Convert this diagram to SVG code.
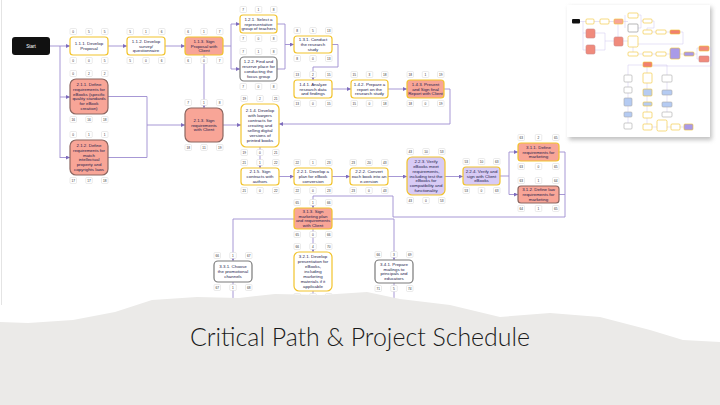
<svg xmlns="http://www.w3.org/2000/svg" width="720" height="405" viewBox="0 0 720 405">
<style>
.nd{stroke-width:1.2}
.cp{fill:#fff;stroke:#f2c32c}
.cs{fill:#f8a597;stroke:#f2c32c}
.cv{fill:#d8cbf5;stroke:#f2c32c}
.gw{fill:#fff;stroke:#7a7a7a}
.gs{fill:#f8a597;stroke:#8c6660}
.tx{font-family:"Liberation Sans",Arial,sans-serif;font-size:4.4px;fill:#1c1c4c;text-anchor:middle}
.nb{fill:#fff;stroke:#d6d6d6;stroke-width:0.5}
.nt{font-family:"Liberation Sans",Arial,sans-serif;font-size:3.2px;fill:#333;text-anchor:middle}
.ln{fill:none;stroke:#9d8cd0;stroke-width:0.9}
.mn{stroke-width:0.6}
.ml{fill:none;stroke:#cfc6ee;stroke-width:0.5}
</style>
<defs>
<marker id="ar" viewBox="0 0 6 6" refX="6" refY="3" markerWidth="4" markerHeight="4" markerUnits="userSpaceOnUse" orient="auto">
<path d="M0,0 L6,3 L0,6 z" fill="#7e6cbc"/>
</marker>
<filter id="sh" x="-10%" y="-10%" width="130%" height="130%">
<feGaussianBlur stdDeviation="2"/>
</filter>
</defs>
<rect x="0" y="0" width="720" height="405" fill="#fff"/>
<line x1="1.5" y1="0" x2="1.5" y2="305" stroke="#e4e4e4" stroke-width="1"/>

<g id="connectors">
<path class="ln" d="M50 46 H70" marker-end="url(#ar)"/>
<path class="ln" d="M60 46 V158"/>
<path class="ln" d="M60 97 H70" marker-end="url(#ar)"/>
<path class="ln" d="M60 157.5 H70" marker-end="url(#ar)"/>
<path class="ln" d="M108 46 H127" marker-end="url(#ar)"/>
<path class="ln" d="M165 46 H185" marker-end="url(#ar)"/>
<path class="ln" d="M223 46 H231"/>
<path class="ln" d="M231 24 V69"/>
<path class="ln" d="M231 24 H240" marker-end="url(#ar)"/>
<path class="ln" d="M231 69 H240" marker-end="url(#ar)"/>
<path class="ln" d="M277 24 H285 V69 H277"/>
<path class="ln" d="M285 44.5 H294" marker-end="url(#ar)"/>
<path class="ln" d="M332 44.5 H338 V67 H313 V80" marker-end="url(#ar)"/>
<path class="ln" d="M332 89 H351" marker-end="url(#ar)"/>
<path class="ln" d="M388 89 H407" marker-end="url(#ar)"/>
<path class="ln" d="M444 89 H450 V124 H279" marker-end="url(#ar)"/>
<path class="ln" d="M204 55 V108" marker-end="url(#ar)"/>
<path class="ln" d="M108 96.5 H147 V157.5 H108"/>
<path class="ln" d="M147 125 H185" marker-end="url(#ar)"/>
<path class="ln" d="M223 125 H241" marker-end="url(#ar)"/>
<path class="ln" d="M260 147 V168" marker-end="url(#ar)"/>
<path class="ln" d="M279 176.5 H294" marker-end="url(#ar)"/>
<path class="ln" d="M332 176.5 H350" marker-end="url(#ar)"/>
<path class="ln" d="M388 176.5 H407" marker-end="url(#ar)"/>
<path class="ln" d="M445 176.5 H463" marker-end="url(#ar)"/>
<path class="ln" d="M500 176 H509 V152 H518" marker-end="url(#ar)"/>
<path class="ln" d="M509 176 V194.5 H518" marker-end="url(#ar)"/>
<path class="ln" d="M559 152 H565 V217 H393 V196 H313 V208" marker-end="url(#ar)"/>
<path class="ln" d="M559 194.5 H565"/>
<path class="ln" d="M294 219 H233 V261" marker-end="url(#ar)"/>
<path class="ln" d="M332 219 H394 V260" marker-end="url(#ar)"/>
<path class="ln" d="M313 229 V252" marker-end="url(#ar)"/>
<path class="ln" d="M233 282 V312"/>
<path class="ln" d="M313 291 V312"/>
<path class="ln" d="M394 283 V312"/>
</g>

<g id="start">
<rect x="12" y="37" width="38" height="18" rx="3" fill="#111"/>
<text x="31" y="47.6" style="font-family:'Liberation Sans',Arial,sans-serif;font-size:4.6px;fill:#fff;text-anchor:middle">Start</text>
</g>

<g id="n111">
<rect class="nd cp" x="70" y="37" width="38" height="18" rx="3"/>
<text class="tx"><tspan x="89" y="45.05">1.1.1. Develop</tspan><tspan x="89" y="49.95">Proposal</tspan></text>
<rect class="nb" x="70" y="28.5" width="6.5" height="6" rx="1"/><rect class="nb" x="85.75" y="28.5" width="6.5" height="6" rx="1"/><rect class="nb" x="101.5" y="28.5" width="6.5" height="6" rx="1"/>
<rect class="nb" x="70" y="57.5" width="6.5" height="6" rx="1"/><rect class="nb" x="85.75" y="57.5" width="6.5" height="6" rx="1"/><rect class="nb" x="101.5" y="57.5" width="6.5" height="6" rx="1"/>
<text class="nt" x="73.25" y="32.7">0</text><text class="nt" x="89" y="32.7">5</text><text class="nt" x="104.75" y="32.7">5</text>
<text class="nt" x="73.25" y="61.7">0</text><text class="nt" x="89" y="61.7">0</text><text class="nt" x="104.75" y="61.7">5</text>
</g>

<g id="n112">
<rect class="nd cp" x="127" y="37" width="38" height="18" rx="3"/>
<text class="tx"><tspan x="146" y="42.6">1.1.2. Develop</tspan><tspan x="146" y="47.5">survey/</tspan><tspan x="146" y="52.4">questionnaire</tspan></text>
<rect class="nb" x="127" y="28.5" width="6.5" height="6" rx="1"/><rect class="nb" x="142.75" y="28.5" width="6.5" height="6" rx="1"/><rect class="nb" x="158.5" y="28.5" width="6.5" height="6" rx="1"/>
<rect class="nb" x="127" y="57.5" width="6.5" height="6" rx="1"/><rect class="nb" x="142.75" y="57.5" width="6.5" height="6" rx="1"/><rect class="nb" x="158.5" y="57.5" width="6.5" height="6" rx="1"/>
<text class="nt" x="130.25" y="32.7">5</text><text class="nt" x="146" y="32.7">1</text><text class="nt" x="161.75" y="32.7">6</text>
<text class="nt" x="130.25" y="61.7">5</text><text class="nt" x="146" y="61.7">0</text><text class="nt" x="161.75" y="61.7">6</text>
</g>

<g id="n113">
<rect class="nd cs" x="185" y="37" width="38" height="18" rx="3"/>
<text class="tx"><tspan x="204" y="42.6">1.1.3. Sign</tspan><tspan x="204" y="47.5">Proposal with</tspan><tspan x="204" y="52.4">Client</tspan></text>
<rect class="nb" x="185" y="28.5" width="6.5" height="6" rx="1"/><rect class="nb" x="200.75" y="28.5" width="6.5" height="6" rx="1"/><rect class="nb" x="216.5" y="28.5" width="6.5" height="6" rx="1"/>
<rect class="nb" x="185" y="57.5" width="6.5" height="6" rx="1"/><rect class="nb" x="200.75" y="57.5" width="6.5" height="6" rx="1"/><rect class="nb" x="216.5" y="57.5" width="6.5" height="6" rx="1"/>
<text class="nt" x="188.25" y="32.7">6</text><text class="nt" x="204" y="32.7">1</text><text class="nt" x="219.75" y="32.7">7</text>
<text class="nt" x="188.25" y="61.7">6</text><text class="nt" x="204" y="61.7">0</text><text class="nt" x="219.75" y="61.7">7</text>
</g>

<g id="n121">
<rect class="nd cp" x="240" y="15" width="37" height="18" rx="3"/>
<text class="tx"><tspan x="258.5" y="20.6">1.2.1. Select a</tspan><tspan x="258.5" y="25.5">representative</tspan><tspan x="258.5" y="30.4">group of teachers</tspan></text>
<rect class="nb" x="240" y="6.5" width="6.5" height="6" rx="1"/><rect class="nb" x="255.25" y="6.5" width="6.5" height="6" rx="1"/><rect class="nb" x="270.5" y="6.5" width="6.5" height="6" rx="1"/>
<rect class="nb" x="240" y="35.5" width="6.5" height="6" rx="1"/><rect class="nb" x="255.25" y="35.5" width="6.5" height="6" rx="1"/><rect class="nb" x="270.5" y="35.5" width="6.5" height="6" rx="1"/>
<text class="nt" x="243.25" y="10.7">7</text><text class="nt" x="258.5" y="10.7">1</text><text class="nt" x="273.75" y="10.7">8</text>
<text class="nt" x="243.25" y="39.7">7</text><text class="nt" x="258.5" y="39.7">0</text><text class="nt" x="273.75" y="39.7">8</text>
</g>

<g id="n122">
<rect class="nd gw" x="240" y="57" width="37" height="24" rx="4"/>
<text class="tx"><tspan x="258.5" y="63.15">1.2.2. Find and</tspan><tspan x="258.5" y="68.05">reserve place for</tspan><tspan x="258.5" y="72.95">conducting the</tspan><tspan x="258.5" y="77.85">focus group</tspan></text>
<rect class="nb" x="240" y="48.5" width="6.5" height="6" rx="1"/><rect class="nb" x="255.25" y="48.5" width="6.5" height="6" rx="1"/><rect class="nb" x="270.5" y="48.5" width="6.5" height="6" rx="1"/>
<rect class="nb" x="240" y="83.5" width="6.5" height="6" rx="1"/><rect class="nb" x="255.25" y="83.5" width="6.5" height="6" rx="1"/><rect class="nb" x="270.5" y="83.5" width="6.5" height="6" rx="1"/>
<text class="nt" x="243.25" y="52.7">7</text><text class="nt" x="258.5" y="52.7">1</text><text class="nt" x="273.75" y="52.7">8</text>
<text class="nt" x="243.25" y="87.7">7</text><text class="nt" x="258.5" y="87.7">0</text><text class="nt" x="273.75" y="87.7">8</text>
</g>

<g id="n131">
<rect class="nd cp" x="294" y="36" width="38" height="17" rx="3"/>
<text class="tx"><tspan x="313" y="41.1">1.3.1. Conduct</tspan><tspan x="313" y="46">the research</tspan><tspan x="313" y="50.9">study</tspan></text>
<rect class="nb" x="294" y="27.5" width="6.5" height="6" rx="1"/><rect class="nb" x="309.75" y="27.5" width="6.5" height="6" rx="1"/><rect class="nb" x="325.5" y="27.5" width="6.5" height="6" rx="1"/>
<rect class="nb" x="294" y="55.5" width="6.5" height="6" rx="1"/><rect class="nb" x="309.75" y="55.5" width="6.5" height="6" rx="1"/><rect class="nb" x="325.5" y="55.5" width="6.5" height="6" rx="1"/>
<text class="nt" x="297.25" y="31.7">8</text><text class="nt" x="313" y="31.7">5</text><text class="nt" x="328.75" y="31.7">13</text>
<text class="nt" x="297.25" y="59.7">8</text><text class="nt" x="313" y="59.7">0</text><text class="nt" x="328.75" y="59.7">13</text>
</g>

<g id="n141">
<rect class="nd cp" x="294" y="80" width="38" height="18" rx="3"/>
<text class="tx"><tspan x="313" y="85.6">1.4.1. Analyze</tspan><tspan x="313" y="90.5">research data</tspan><tspan x="313" y="95.4">and findings</tspan></text>
<rect class="nb" x="294" y="71.5" width="6.5" height="6" rx="1"/><rect class="nb" x="309.75" y="71.5" width="6.5" height="6" rx="1"/><rect class="nb" x="325.5" y="71.5" width="6.5" height="6" rx="1"/>
<rect class="nb" x="294" y="100.5" width="6.5" height="6" rx="1"/><rect class="nb" x="309.75" y="100.5" width="6.5" height="6" rx="1"/><rect class="nb" x="325.5" y="100.5" width="6.5" height="6" rx="1"/>
<text class="nt" x="297.25" y="75.7">13</text><text class="nt" x="313" y="75.7">2</text><text class="nt" x="328.75" y="75.7">15</text>
<text class="nt" x="297.25" y="104.7">13</text><text class="nt" x="313" y="104.7">0</text><text class="nt" x="328.75" y="104.7">15</text>
</g>

<g id="n142">
<rect class="nd cp" x="351" y="80" width="37" height="18" rx="3"/>
<text class="tx"><tspan x="369.5" y="85.6">1.4.2. Prepare a</tspan><tspan x="369.5" y="90.5">report on the</tspan><tspan x="369.5" y="95.4">research study</tspan></text>
<rect class="nb" x="351" y="71.5" width="6.5" height="6" rx="1"/><rect class="nb" x="366.25" y="71.5" width="6.5" height="6" rx="1"/><rect class="nb" x="381.5" y="71.5" width="6.5" height="6" rx="1"/>
<rect class="nb" x="351" y="100.5" width="6.5" height="6" rx="1"/><rect class="nb" x="366.25" y="100.5" width="6.5" height="6" rx="1"/><rect class="nb" x="381.5" y="100.5" width="6.5" height="6" rx="1"/>
<text class="nt" x="354.25" y="75.7">15</text><text class="nt" x="369.5" y="75.7">3</text><text class="nt" x="384.75" y="75.7">18</text>
<text class="nt" x="354.25" y="104.7">15</text><text class="nt" x="369.5" y="104.7">0</text><text class="nt" x="384.75" y="104.7">18</text>
</g>

<g id="n143">
<rect class="nd cs" x="407" y="80" width="37" height="18" rx="3"/>
<text class="tx"><tspan x="425.5" y="85.6">1.4.3. Present</tspan><tspan x="425.5" y="90.5">and Sign final</tspan><tspan x="425.5" y="95.4">Report with Client</tspan></text>
<rect class="nb" x="407" y="71.5" width="6.5" height="6" rx="1"/><rect class="nb" x="422.25" y="71.5" width="6.5" height="6" rx="1"/><rect class="nb" x="437.5" y="71.5" width="6.5" height="6" rx="1"/>
<rect class="nb" x="407" y="100.5" width="6.5" height="6" rx="1"/><rect class="nb" x="422.25" y="100.5" width="6.5" height="6" rx="1"/><rect class="nb" x="437.5" y="100.5" width="6.5" height="6" rx="1"/>
<text class="nt" x="410.25" y="75.7">18</text><text class="nt" x="425.5" y="75.7">1</text><text class="nt" x="440.75" y="75.7">19</text>
<text class="nt" x="410.25" y="104.7">18</text><text class="nt" x="425.5" y="104.7">0</text><text class="nt" x="440.75" y="104.7">19</text>
</g>

<g id="n211">
<rect class="nd gs" x="70" y="79" width="38" height="35" rx="6"/>
<text class="tx"><tspan x="89" y="85.75">2.1.1. Define</tspan><tspan x="89" y="90.65">requirements for</tspan><tspan x="89" y="95.55">eBooks (specific</tspan><tspan x="89" y="100.45">quality standards</tspan><tspan x="89" y="105.35">for eBook</tspan><tspan x="89" y="110.25">creation)</tspan></text>
<rect class="nb" x="70" y="70.5" width="6.5" height="6" rx="1"/><rect class="nb" x="85.75" y="70.5" width="6.5" height="6" rx="1"/><rect class="nb" x="101.5" y="70.5" width="6.5" height="6" rx="1"/>
<rect class="nb" x="70" y="116.5" width="6.5" height="6" rx="1"/><rect class="nb" x="85.75" y="116.5" width="6.5" height="6" rx="1"/><rect class="nb" x="101.5" y="116.5" width="6.5" height="6" rx="1"/>
<text class="nt" x="73.25" y="74.7">0</text><text class="nt" x="89" y="74.7">2</text><text class="nt" x="104.75" y="74.7">2</text>
<text class="nt" x="73.25" y="120.7">16</text><text class="nt" x="89" y="120.7">16</text><text class="nt" x="104.75" y="120.7">18</text>
</g>

<g id="n212">
<rect class="nd gs" x="70" y="140" width="38" height="35" rx="6"/>
<text class="tx"><tspan x="89" y="146.75">2.1.2. Define</tspan><tspan x="89" y="151.65">requirements for</tspan><tspan x="89" y="156.55">match</tspan><tspan x="89" y="161.45">intellectual</tspan><tspan x="89" y="166.35">property and</tspan><tspan x="89" y="171.25">copyrights laws</tspan></text>
<rect class="nb" x="70" y="131.5" width="6.5" height="6" rx="1"/><rect class="nb" x="85.75" y="131.5" width="6.5" height="6" rx="1"/><rect class="nb" x="101.5" y="131.5" width="6.5" height="6" rx="1"/>
<rect class="nb" x="70" y="177.5" width="6.5" height="6" rx="1"/><rect class="nb" x="85.75" y="177.5" width="6.5" height="6" rx="1"/><rect class="nb" x="101.5" y="177.5" width="6.5" height="6" rx="1"/>
<text class="nt" x="73.25" y="135.7">0</text><text class="nt" x="89" y="135.7">1</text><text class="nt" x="104.75" y="135.7">1</text>
<text class="nt" x="73.25" y="181.7">17</text><text class="nt" x="89" y="181.7">17</text><text class="nt" x="104.75" y="181.7">18</text>
</g>

<g id="n213">
<rect class="nd gs" x="185" y="108" width="38" height="34" rx="6"/>
<text class="tx"><tspan x="204" y="121.6">2.1.3. Sign</tspan><tspan x="204" y="126.5">requirements</tspan><tspan x="204" y="131.4">with Client</tspan></text>
<rect class="nb" x="185" y="99.5" width="6.5" height="6" rx="1"/><rect class="nb" x="200.75" y="99.5" width="6.5" height="6" rx="1"/><rect class="nb" x="216.5" y="99.5" width="6.5" height="6" rx="1"/>
<rect class="nb" x="185" y="144.5" width="6.5" height="6" rx="1"/><rect class="nb" x="200.75" y="144.5" width="6.5" height="6" rx="1"/><rect class="nb" x="216.5" y="144.5" width="6.5" height="6" rx="1"/>
<text class="nt" x="188.25" y="103.7">7</text><text class="nt" x="204" y="103.7">1</text><text class="nt" x="219.75" y="103.7">8</text>
<text class="nt" x="188.25" y="148.7">18</text><text class="nt" x="204" y="148.7">11</text><text class="nt" x="219.75" y="148.7">19</text>
</g>

<g id="n214">
<rect class="nd cp" x="241" y="104" width="38" height="43" rx="5"/>
<text class="tx"><tspan x="260" y="112.3">2.1.4. Develop</tspan><tspan x="260" y="117.2">with lawyers</tspan><tspan x="260" y="122.1">contracts for</tspan><tspan x="260" y="127">creating and</tspan><tspan x="260" y="131.9">selling digital</tspan><tspan x="260" y="136.8">versions of</tspan><tspan x="260" y="141.7">printed books</tspan></text>
<rect class="nb" x="241" y="95.5" width="6.5" height="6" rx="1"/><rect class="nb" x="256.75" y="95.5" width="6.5" height="6" rx="1"/><rect class="nb" x="272.5" y="95.5" width="6.5" height="6" rx="1"/>
<rect class="nb" x="241" y="149.5" width="6.5" height="6" rx="1"/><rect class="nb" x="256.75" y="149.5" width="6.5" height="6" rx="1"/><rect class="nb" x="272.5" y="149.5" width="6.5" height="6" rx="1"/>
<text class="nt" x="244.25" y="99.7">19</text><text class="nt" x="260" y="99.7">2</text><text class="nt" x="275.75" y="99.7">21</text>
<text class="nt" x="244.25" y="153.7">19</text><text class="nt" x="260" y="153.7">0</text><text class="nt" x="275.75" y="153.7">21</text>
</g>

<g id="n215">
<rect class="nd cp" x="241" y="168" width="38" height="17" rx="3"/>
<text class="tx"><tspan x="260" y="173.1">2.1.5. Sign</tspan><tspan x="260" y="178">contracts with</tspan><tspan x="260" y="182.9">authors</tspan></text>
<rect class="nb" x="241" y="159.5" width="6.5" height="6" rx="1"/><rect class="nb" x="256.75" y="159.5" width="6.5" height="6" rx="1"/><rect class="nb" x="272.5" y="159.5" width="6.5" height="6" rx="1"/>
<rect class="nb" x="241" y="187.5" width="6.5" height="6" rx="1"/><rect class="nb" x="256.75" y="187.5" width="6.5" height="6" rx="1"/><rect class="nb" x="272.5" y="187.5" width="6.5" height="6" rx="1"/>
<text class="nt" x="244.25" y="163.7">21</text><text class="nt" x="260" y="163.7">1</text><text class="nt" x="275.75" y="163.7">22</text>
<text class="nt" x="244.25" y="191.7">21</text><text class="nt" x="260" y="191.7">0</text><text class="nt" x="275.75" y="191.7">22</text>
</g>

<g id="n221">
<rect class="nd cp" x="294" y="168" width="38" height="17" rx="3"/>
<text class="tx"><tspan x="313" y="173.1">2.2.1. Develop a</tspan><tspan x="313" y="178">plan for eBook</tspan><tspan x="313" y="182.9">conversion</tspan></text>
<rect class="nb" x="294" y="159.5" width="6.5" height="6" rx="1"/><rect class="nb" x="309.75" y="159.5" width="6.5" height="6" rx="1"/><rect class="nb" x="325.5" y="159.5" width="6.5" height="6" rx="1"/>
<rect class="nb" x="294" y="187.5" width="6.5" height="6" rx="1"/><rect class="nb" x="309.75" y="187.5" width="6.5" height="6" rx="1"/><rect class="nb" x="325.5" y="187.5" width="6.5" height="6" rx="1"/>
<text class="nt" x="297.25" y="163.7">22</text><text class="nt" x="313" y="163.7">1</text><text class="nt" x="328.75" y="163.7">23</text>
<text class="nt" x="297.25" y="191.7">22</text><text class="nt" x="313" y="191.7">0</text><text class="nt" x="328.75" y="191.7">23</text>
</g>

<g id="n222">
<rect class="nd cp" x="350" y="168" width="38" height="17" rx="3"/>
<text class="tx"><tspan x="369" y="173.1">2.2.2. Convert</tspan><tspan x="369" y="178">each book into an</tspan><tspan x="369" y="182.9">e-version</tspan></text>
<rect class="nb" x="350" y="159.5" width="6.5" height="6" rx="1"/><rect class="nb" x="365.75" y="159.5" width="6.5" height="6" rx="1"/><rect class="nb" x="381.5" y="159.5" width="6.5" height="6" rx="1"/>
<rect class="nb" x="350" y="187.5" width="6.5" height="6" rx="1"/><rect class="nb" x="365.75" y="187.5" width="6.5" height="6" rx="1"/><rect class="nb" x="381.5" y="187.5" width="6.5" height="6" rx="1"/>
<text class="nt" x="353.25" y="163.7">23</text><text class="nt" x="369" y="163.7">20</text><text class="nt" x="384.75" y="163.7">43</text>
<text class="nt" x="353.25" y="191.7">23</text><text class="nt" x="369" y="191.7">0</text><text class="nt" x="384.75" y="191.7">43</text>
</g>

<g id="n223">
<rect class="nd cv" x="407" y="157" width="38" height="38" rx="5"/>
<text class="tx"><tspan x="426" y="162.8">2.2.3. Verify</tspan><tspan x="426" y="167.7">eBooks meet</tspan><tspan x="426" y="172.6">requirements,</tspan><tspan x="426" y="177.5">including test the</tspan><tspan x="426" y="182.4">eBooks for</tspan><tspan x="426" y="187.3">compatibility and</tspan><tspan x="426" y="192.2">functionality</tspan></text>
<rect class="nb" x="407" y="148.5" width="6.5" height="6" rx="1"/><rect class="nb" x="422.75" y="148.5" width="6.5" height="6" rx="1"/><rect class="nb" x="438.5" y="148.5" width="6.5" height="6" rx="1"/>
<rect class="nb" x="407" y="197.5" width="6.5" height="6" rx="1"/><rect class="nb" x="422.75" y="197.5" width="6.5" height="6" rx="1"/><rect class="nb" x="438.5" y="197.5" width="6.5" height="6" rx="1"/>
<text class="nt" x="410.25" y="152.7">43</text><text class="nt" x="426" y="152.7">10</text><text class="nt" x="441.75" y="152.7">53</text>
<text class="nt" x="410.25" y="201.7">43</text><text class="nt" x="426" y="201.7">0</text><text class="nt" x="441.75" y="201.7">53</text>
</g>

<g id="n224">
<rect class="nd cv" x="463" y="167" width="37" height="18" rx="3"/>
<text class="tx"><tspan x="481.5" y="172.6">2.2.4. Verify and</tspan><tspan x="481.5" y="177.5">sign with Client</tspan><tspan x="481.5" y="182.4">eBooks</tspan></text>
<rect class="nb" x="463" y="158.5" width="6.5" height="6" rx="1"/><rect class="nb" x="478.25" y="158.5" width="6.5" height="6" rx="1"/><rect class="nb" x="493.5" y="158.5" width="6.5" height="6" rx="1"/>
<rect class="nb" x="463" y="187.5" width="6.5" height="6" rx="1"/><rect class="nb" x="478.25" y="187.5" width="6.5" height="6" rx="1"/><rect class="nb" x="493.5" y="187.5" width="6.5" height="6" rx="1"/>
<text class="nt" x="466.25" y="162.7">53</text><text class="nt" x="481.5" y="162.7">10</text><text class="nt" x="496.75" y="162.7">63</text>
<text class="nt" x="466.25" y="191.7">53</text><text class="nt" x="481.5" y="191.7">0</text><text class="nt" x="496.75" y="191.7">63</text>
</g>

<g id="n311">
<rect class="nd cs" x="518" y="143" width="41" height="18" rx="3"/>
<text class="tx"><tspan x="538.5" y="148.6">3.1.1. Define</tspan><tspan x="538.5" y="153.5">requirements for</tspan><tspan x="538.5" y="158.4">marketing</tspan></text>
<rect class="nb" x="518" y="134.5" width="6.5" height="6" rx="1"/><rect class="nb" x="535.25" y="134.5" width="6.5" height="6" rx="1"/><rect class="nb" x="552.5" y="134.5" width="6.5" height="6" rx="1"/>
<rect class="nb" x="518" y="163.5" width="6.5" height="6" rx="1"/><rect class="nb" x="535.25" y="163.5" width="6.5" height="6" rx="1"/><rect class="nb" x="552.5" y="163.5" width="6.5" height="6" rx="1"/>
<text class="nt" x="521.25" y="138.7">63</text><text class="nt" x="538.5" y="138.7">2</text><text class="nt" x="555.75" y="138.7">65</text>
<text class="nt" x="521.25" y="167.7">63</text><text class="nt" x="538.5" y="167.7">0</text><text class="nt" x="555.75" y="167.7">65</text>
</g>

<g id="n312">
<rect class="nd gs" x="518" y="186" width="41" height="17" rx="3"/>
<text class="tx"><tspan x="538.5" y="191.1">3.1.2. Define law</tspan><tspan x="538.5" y="196">requirements for</tspan><tspan x="538.5" y="200.9">marketing</tspan></text>
<rect class="nb" x="518" y="177.5" width="6.5" height="6" rx="1"/><rect class="nb" x="535.25" y="177.5" width="6.5" height="6" rx="1"/><rect class="nb" x="552.5" y="177.5" width="6.5" height="6" rx="1"/>
<rect class="nb" x="518" y="205.5" width="6.5" height="6" rx="1"/><rect class="nb" x="535.25" y="205.5" width="6.5" height="6" rx="1"/><rect class="nb" x="552.5" y="205.5" width="6.5" height="6" rx="1"/>
<text class="nt" x="521.25" y="181.7">63</text><text class="nt" x="538.5" y="181.7">1</text><text class="nt" x="555.75" y="181.7">64</text>
<text class="nt" x="521.25" y="209.7">64</text><text class="nt" x="538.5" y="209.7">1</text><text class="nt" x="555.75" y="209.7">65</text>
</g>

<g id="n313">
<rect class="nd cs" x="294" y="208" width="38" height="21" rx="3"/>
<text class="tx"><tspan x="313" y="212.65">3.1.3. Sign</tspan><tspan x="313" y="217.55">marketing plan</tspan><tspan x="313" y="222.45">and requirements</tspan><tspan x="313" y="227.35">with Client</tspan></text>
<rect class="nb" x="294" y="199.5" width="6.5" height="6" rx="1"/><rect class="nb" x="309.75" y="199.5" width="6.5" height="6" rx="1"/><rect class="nb" x="325.5" y="199.5" width="6.5" height="6" rx="1"/>
<rect class="nb" x="294" y="231.5" width="6.5" height="6" rx="1"/><rect class="nb" x="309.75" y="231.5" width="6.5" height="6" rx="1"/><rect class="nb" x="325.5" y="231.5" width="6.5" height="6" rx="1"/>
<text class="nt" x="297.25" y="203.7">65</text><text class="nt" x="313" y="203.7">1</text><text class="nt" x="328.75" y="203.7">66</text>
<text class="nt" x="297.25" y="235.7">65</text><text class="nt" x="313" y="235.7">0</text><text class="nt" x="328.75" y="235.7">66</text>
</g>

<g id="n321">
<rect class="nd cp" x="294" y="252" width="38" height="39" rx="5"/>
<text class="tx"><tspan x="313" y="258.3">3.2.1. Develop</tspan><tspan x="313" y="263.2">presentation for</tspan><tspan x="313" y="268.1">eBooks,</tspan><tspan x="313" y="273">including</tspan><tspan x="313" y="277.9">marketing</tspan><tspan x="313" y="282.8">materials if it</tspan><tspan x="313" y="287.7">applicable</tspan></text>
<rect class="nb" x="294" y="243.5" width="6.5" height="6" rx="1"/><rect class="nb" x="309.75" y="243.5" width="6.5" height="6" rx="1"/><rect class="nb" x="325.5" y="243.5" width="6.5" height="6" rx="1"/>
<rect class="nb" x="294" y="293.5" width="6.5" height="6" rx="1"/><rect class="nb" x="309.75" y="293.5" width="6.5" height="6" rx="1"/><rect class="nb" x="325.5" y="293.5" width="6.5" height="6" rx="1"/>
<text class="nt" x="297.25" y="247.7">66</text><text class="nt" x="313" y="247.7">4</text><text class="nt" x="328.75" y="247.7">70</text>
<text class="nt" x="297.25" y="297.7">66</text><text class="nt" x="313" y="297.7">0</text><text class="nt" x="328.75" y="297.7">70</text>
</g>

<g id="n331">
<rect class="nd gw" x="214" y="261" width="38" height="21" rx="4"/>
<text class="tx"><tspan x="233" y="268.1">3.3.1. Choose</tspan><tspan x="233" y="273">the promotional</tspan><tspan x="233" y="277.9">channels</tspan></text>
<rect class="nb" x="214" y="252.5" width="6.5" height="6" rx="1"/><rect class="nb" x="229.75" y="252.5" width="6.5" height="6" rx="1"/><rect class="nb" x="245.5" y="252.5" width="6.5" height="6" rx="1"/>
<rect class="nb" x="214" y="284.5" width="6.5" height="6" rx="1"/><rect class="nb" x="229.75" y="284.5" width="6.5" height="6" rx="1"/><rect class="nb" x="245.5" y="284.5" width="6.5" height="6" rx="1"/>
<text class="nt" x="217.25" y="256.7">66</text><text class="nt" x="233" y="256.7">1</text><text class="nt" x="248.75" y="256.7">67</text>
<text class="nt" x="217.25" y="288.7">67</text><text class="nt" x="233" y="288.7">1</text><text class="nt" x="248.75" y="288.7">68</text>
</g>

<g id="n341">
<rect class="nd gw" x="375" y="260" width="38" height="23" rx="4"/>
<text class="tx"><tspan x="394" y="265.65">3.4.1. Prepare</tspan><tspan x="394" y="270.55">mailings to</tspan><tspan x="394" y="275.45">principals and</tspan><tspan x="394" y="280.35">educators</tspan></text>
<rect class="nb" x="375" y="251.5" width="6.5" height="6" rx="1"/><rect class="nb" x="390.75" y="251.5" width="6.5" height="6" rx="1"/><rect class="nb" x="406.5" y="251.5" width="6.5" height="6" rx="1"/>
<rect class="nb" x="375" y="285.5" width="6.5" height="6" rx="1"/><rect class="nb" x="390.75" y="285.5" width="6.5" height="6" rx="1"/><rect class="nb" x="406.5" y="285.5" width="6.5" height="6" rx="1"/>
<text class="nt" x="378.25" y="255.7">66</text><text class="nt" x="394" y="255.7">3</text><text class="nt" x="409.75" y="255.7">69</text>
<text class="nt" x="378.25" y="289.7">71</text><text class="nt" x="394" y="289.7">5</text><text class="nt" x="409.75" y="289.7">74</text>
</g>

<g id="thumbnail">
<rect x="569" y="7" width="143" height="133" fill="#9a9a9a" opacity="0.6" filter="url(#sh)"/>
<rect x="567" y="5" width="143" height="132" fill="#fff"/>
<path class="ml" d="M580 21.5 H628 M583 21.5 V50 H586 M583 33 H586 M595 33 H605 V50 H595 M605 41 H614 M623 41 H628 M618 24 V37 M625 15 V28 M638 15 H641 V28 H638 M641 21 H643 M652 21 H654 V28 H647 V30 M652 32 H656 M666 32 H670 M680 32 H683 V44 H638 M633 47 V52 M638 54 H643 M652 54 H656 M666 54 H670 M680 54 H684 M694 54 H697 V48 H699 M697 54 V59 H699 M709 48 H711 V66 H652 M643 65 H628 V75 M652 65 H667 V75 M647 67 V73 M647 83 V89 M628 82 V87 M628 93 V98 M628 106 V112 M628 117 V123 M647 96 V102 M647 106 V112 M667 82 V90 M667 95 V102 M667 107 V112 M647 118 V124 M652 127 H657 M667 127 H671 M680 127 H684"/>
<rect x="572" y="19" width="8" height="4.5" rx="1" fill="#111"/>
<g class="mn">
<rect x="586" y="19" width="8" height="5" rx="1" fill="#fff" stroke="#f2c32c"/>
<rect x="600" y="19" width="9" height="5" rx="1" fill="#fff" stroke="#f2c32c"/>
<rect x="614" y="19" width="9" height="5" rx="1" fill="#f8a597" stroke="#f2c32c"/>
<rect x="628" y="13" width="10" height="5" rx="1" fill="#fff" stroke="#f2c32c"/>
<rect x="628" y="24" width="10" height="8" rx="1" fill="#fff" stroke="#888"/>
<rect x="643" y="19" width="9" height="4" rx="1" fill="#fff" stroke="#f2c32c"/>
<rect x="643" y="30" width="9" height="4" rx="1" fill="#fff" stroke="#f2c32c"/>
<rect x="656" y="30" width="10" height="4" rx="1" fill="#fff" stroke="#f2c32c"/>
<rect x="670" y="30" width="10" height="4" rx="1" fill="#f08070" stroke="#f2c32c"/>
<rect x="586" y="29" width="9" height="9" rx="1.5" fill="#f08a7c" stroke="#c88"/>
<rect x="586" y="45" width="9" height="9" rx="1.5" fill="#f08a7c" stroke="#c88"/>
<rect x="614" y="37" width="9" height="9" rx="1.5" fill="#f08a7c" stroke="#c88"/>
<rect x="628" y="36" width="10" height="11" rx="1.5" fill="#fff" stroke="#f2c32c"/>
<rect x="628" y="52" width="10" height="4" rx="1" fill="#fff" stroke="#f2c32c"/>
<rect x="643" y="52" width="9" height="4" rx="1" fill="#fff" stroke="#f2c32c"/>
<rect x="656" y="52" width="10" height="4" rx="1" fill="#fff" stroke="#f2c32c"/>
<rect x="670" y="48" width="10" height="11" rx="1.5" fill="#a99ae8" stroke="#f2c32c"/>
<rect x="684" y="52" width="10" height="4" rx="1" fill="#a99ae8" stroke="#f2c32c"/>
<rect x="699" y="46" width="10" height="5" rx="1" fill="#f08a7c" stroke="#f2c32c"/>
<rect x="699" y="56" width="10" height="6" rx="1" fill="#f08a7c" stroke="#c88"/>
<rect x="643" y="62" width="9" height="5" rx="1" fill="#f08070" stroke="#f2c32c"/>
<rect x="624" y="75" width="8" height="7" rx="1" fill="#fff" stroke="#aaa"/>
<rect x="624" y="87" width="8" height="6" rx="1" fill="#fff" stroke="#aaa"/>
<rect x="624" y="98" width="8" height="8" rx="1" fill="#b5cbf2" stroke="#aaa"/>
<rect x="624" y="112" width="8" height="5" rx="1" fill="#b5cbf2" stroke="#aaa"/>
<rect x="624" y="123" width="8" height="6" rx="1" fill="#fff" stroke="#aaa"/>
<rect x="643" y="73" width="9" height="10" rx="1" fill="#fff" stroke="#f2c32c"/>
<rect x="643" y="89" width="9" height="7" rx="1" fill="#b5cbf2" stroke="#f2c32c"/>
<rect x="643" y="102" width="9" height="4" rx="1" fill="#b5cbf2" stroke="#f2c32c"/>
<rect x="643" y="112" width="9" height="6" rx="1" fill="#fff" stroke="#f2c32c"/>
<rect x="662" y="75" width="10" height="7" rx="1" fill="#fff" stroke="#aaa"/>
<rect x="662" y="90" width="10" height="5" rx="1" fill="#b5cbf2" stroke="#aaa"/>
<rect x="662" y="102" width="10" height="5" rx="1" fill="#b5cbf2" stroke="#aaa"/>
<rect x="662" y="112" width="10" height="5" rx="1" fill="#fff" stroke="#aaa"/>
<rect x="643" y="124" width="9" height="6" rx="1" fill="#fff" stroke="#f2c32c"/>
<rect x="657" y="120" width="10" height="11" rx="1.5" fill="#fff" stroke="#f2c32c"/>
<rect x="671" y="124" width="9" height="6" rx="1" fill="#fff" stroke="#f2c32c"/>
<rect x="684" y="124" width="9" height="6" rx="1" fill="#a99ae8" stroke="#f2c32c"/>
</g>
</g>

<path d="M0 322 L28 323 L73 320 L115 312 L152 300 L197 297 L239 298 L275 294 L321 295 L367 292 L400 299 L450 305 L500 317 L550 313 L600 317 L650 330 L683 340 L720 342 L720 405 L0 405 Z" fill="#ebeae8"/>
<text x="360" y="346" textLength="340" lengthAdjust="spacingAndGlyphs" style="font-family:Lato,'Open Sans','Liberation Sans',sans-serif;font-weight:300;font-size:25px;fill:#1a1a1a;text-anchor:middle">Critical Path &amp; Project Schedule</text>
</svg>
